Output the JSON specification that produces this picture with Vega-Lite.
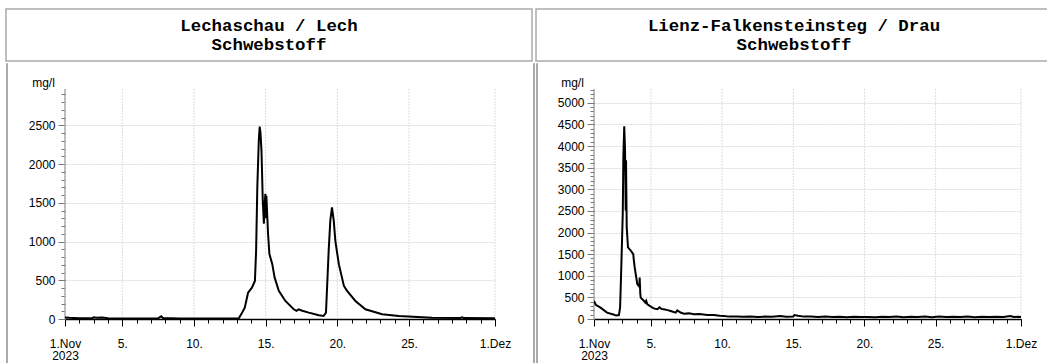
{
  "$schema": "https://vega.github.io/schema/vega-lite/v6.json",
  "padding": {"left": 5, "top": 8, "right": 0, "bottom": 0},
  "config": {
    "view": {"stroke": null},
    "axis": {"labelFont": "Liberation Sans", "labelFontSize": 12, "labelColor": "#000", "titleFont": "Liberation Sans", "titleFontSize": 12, "titleFontWeight": "normal", "titleColor": "#000"}
  },
  "datasets": {
    "gridDates": [
      {"g": "2023-11-01T00:00"}, {"g": "2023-11-05T00:00"}, {"g": "2023-11-10T00:00"}, {"g": "2023-11-15T00:00"},
      {"g": "2023-11-20T00:00"}, {"g": "2023-11-25T00:00"}, {"g": "2023-12-01T00:00"}
    ],
    "lech": [
      {"t": "2023-11-01T00:00", "v": 20}, {"t": "2023-11-01T07:00", "v": 15}, {"t": "2023-11-02T00:00", "v": 10},
      {"t": "2023-11-02T22:00", "v": 12}, {"t": "2023-11-03T00:00", "v": 22}, {"t": "2023-11-03T05:00", "v": 15},
      {"t": "2023-11-03T14:00", "v": 18}, {"t": "2023-11-04T00:00", "v": 10}, {"t": "2023-11-05T00:00", "v": 8},
      {"t": "2023-11-06T00:00", "v": 7}, {"t": "2023-11-07T12:00", "v": 8}, {"t": "2023-11-07T17:00", "v": 35},
      {"t": "2023-11-07T20:00", "v": 12}, {"t": "2023-11-09T00:00", "v": 7}, {"t": "2023-11-11T00:00", "v": 6},
      {"t": "2023-11-13T00:00", "v": 6}, {"t": "2023-11-13T03:00", "v": 10}, {"t": "2023-11-13T07:00", "v": 60},
      {"t": "2023-11-13T13:00", "v": 146}, {"t": "2023-11-13T18:30", "v": 340}, {"t": "2023-11-14T01:00", "v": 405},
      {"t": "2023-11-14T06:00", "v": 492}, {"t": "2023-11-14T08:00", "v": 880}, {"t": "2023-11-14T10:00", "v": 1700},
      {"t": "2023-11-14T12:30", "v": 2305}, {"t": "2023-11-14T14:00", "v": 2486}, {"t": "2023-11-14T15:20", "v": 2400},
      {"t": "2023-11-14T17:00", "v": 2175}, {"t": "2023-11-14T19:10", "v": 1528}, {"t": "2023-11-14T21:00", "v": 1230},
      {"t": "2023-11-14T22:00", "v": 1450}, {"t": "2023-11-14T23:30", "v": 1618}, {"t": "2023-11-15T00:30", "v": 1300},
      {"t": "2023-11-15T01:10", "v": 1590}, {"t": "2023-11-15T04:00", "v": 1100}, {"t": "2023-11-15T06:15", "v": 840},
      {"t": "2023-11-15T11:00", "v": 712}, {"t": "2023-11-15T15:00", "v": 535}, {"t": "2023-11-15T22:00", "v": 363},
      {"t": "2023-11-16T09:00", "v": 233}, {"t": "2023-11-16T23:00", "v": 125}, {"t": "2023-11-17T03:30", "v": 105},
      {"t": "2023-11-17T07:30", "v": 125}, {"t": "2023-11-17T12:00", "v": 110}, {"t": "2023-11-18T00:15", "v": 82},
      {"t": "2023-11-18T17:00", "v": 48}, {"t": "2023-11-19T01:00", "v": 39}, {"t": "2023-11-19T05:00", "v": 82},
      {"t": "2023-11-19T09:30", "v": 880}, {"t": "2023-11-19T12:15", "v": 1270}, {"t": "2023-11-19T15:00", "v": 1440},
      {"t": "2023-11-19T18:00", "v": 1270}, {"t": "2023-11-19T20:40", "v": 1010}, {"t": "2023-11-20T02:30", "v": 708},
      {"t": "2023-11-20T11:00", "v": 427}, {"t": "2023-11-20T16:20", "v": 363}, {"t": "2023-11-21T06:15", "v": 233},
      {"t": "2023-11-21T23:00", "v": 125}, {"t": "2023-11-23T03:00", "v": 61}, {"t": "2023-11-24T07:00", "v": 39},
      {"t": "2023-11-26T14:30", "v": 17}, {"t": "2023-11-28T14:00", "v": 14}, {"t": "2023-11-28T17:00", "v": 22},
      {"t": "2023-11-28T20:00", "v": 12}, {"t": "2023-12-01T00:00", "v": 10}
    ],
    "drau": [
      {"t": "2023-11-01T00:00", "v": 420}, {"t": "2023-11-01T03:00", "v": 330}, {"t": "2023-11-01T11:00", "v": 263},
      {"t": "2023-11-01T22:00", "v": 147}, {"t": "2023-11-02T10:00", "v": 100}, {"t": "2023-11-02T13:00", "v": 80},
      {"t": "2023-11-02T18:00", "v": 90}, {"t": "2023-11-02T20:00", "v": 260}, {"t": "2023-11-02T22:00", "v": 1190},
      {"t": "2023-11-03T00:30", "v": 2440}, {"t": "2023-11-03T01:30", "v": 3745}, {"t": "2023-11-03T03:00", "v": 4460},
      {"t": "2023-11-03T04:20", "v": 3900}, {"t": "2023-11-03T05:30", "v": 2508}, {"t": "2023-11-03T06:00", "v": 3670},
      {"t": "2023-11-03T07:10", "v": 2120}, {"t": "2023-11-03T09:20", "v": 1655}, {"t": "2023-11-03T14:00", "v": 1580},
      {"t": "2023-11-03T18:15", "v": 1500}, {"t": "2023-11-03T19:00", "v": 1380}, {"t": "2023-11-03T20:40", "v": 1190},
      {"t": "2023-11-04T01:00", "v": 805}, {"t": "2023-11-04T04:20", "v": 750}, {"t": "2023-11-04T05:00", "v": 960},
      {"t": "2023-11-04T06:00", "v": 600}, {"t": "2023-11-04T06:45", "v": 495}, {"t": "2023-11-04T12:15", "v": 418},
      {"t": "2023-11-04T14:30", "v": 380}, {"t": "2023-11-04T16:00", "v": 420}, {"t": "2023-11-04T18:00", "v": 340},
      {"t": "2023-11-05T02:30", "v": 263}, {"t": "2023-11-05T06:00", "v": 240}, {"t": "2023-11-05T11:00", "v": 225},
      {"t": "2023-11-05T14:30", "v": 270}, {"t": "2023-11-05T18:00", "v": 230}, {"t": "2023-11-05T22:00", "v": 225},
      {"t": "2023-11-06T04:00", "v": 205}, {"t": "2023-11-06T09:15", "v": 186}, {"t": "2023-11-06T17:45", "v": 147},
      {"t": "2023-11-06T20:30", "v": 200}, {"t": "2023-11-07T02:00", "v": 150}, {"t": "2023-11-07T07:40", "v": 124},
      {"t": "2023-11-07T16:00", "v": 130}, {"t": "2023-11-08T00:45", "v": 108}, {"t": "2023-11-08T10:00", "v": 115},
      {"t": "2023-11-08T23:00", "v": 93}, {"t": "2023-11-09T10:00", "v": 95}, {"t": "2023-11-09T20:00", "v": 75},
      {"t": "2023-11-10T03:20", "v": 70}, {"t": "2023-11-10T12:00", "v": 55}, {"t": "2023-11-11T00:00", "v": 60},
      {"t": "2023-11-11T12:00", "v": 50}, {"t": "2023-11-12T00:00", "v": 58}, {"t": "2023-11-12T12:00", "v": 48},
      {"t": "2023-11-13T00:00", "v": 55}, {"t": "2023-11-13T12:00", "v": 52}, {"t": "2023-11-14T02:00", "v": 70},
      {"t": "2023-11-14T12:00", "v": 50}, {"t": "2023-11-15T00:00", "v": 60}, {"t": "2023-11-15T02:00", "v": 90},
      {"t": "2023-11-15T08:00", "v": 75}, {"t": "2023-11-15T18:00", "v": 55}, {"t": "2023-11-16T06:00", "v": 60},
      {"t": "2023-11-16T18:00", "v": 45}, {"t": "2023-11-17T06:00", "v": 55}, {"t": "2023-11-17T18:00", "v": 48},
      {"t": "2023-11-18T06:00", "v": 52}, {"t": "2023-11-18T18:00", "v": 42}, {"t": "2023-11-19T06:00", "v": 50},
      {"t": "2023-11-19T18:00", "v": 45}, {"t": "2023-11-20T06:00", "v": 48}, {"t": "2023-11-20T18:00", "v": 40},
      {"t": "2023-11-21T06:00", "v": 50}, {"t": "2023-11-21T18:00", "v": 45}, {"t": "2023-11-22T06:00", "v": 58},
      {"t": "2023-11-22T18:00", "v": 42}, {"t": "2023-11-23T06:00", "v": 52}, {"t": "2023-11-23T18:00", "v": 45},
      {"t": "2023-11-24T06:00", "v": 55}, {"t": "2023-11-24T18:00", "v": 42}, {"t": "2023-11-25T06:00", "v": 60},
      {"t": "2023-11-25T18:00", "v": 45}, {"t": "2023-11-26T06:00", "v": 52}, {"t": "2023-11-26T18:00", "v": 48},
      {"t": "2023-11-27T06:00", "v": 55}, {"t": "2023-11-27T18:00", "v": 42}, {"t": "2023-11-28T06:00", "v": 50},
      {"t": "2023-11-28T18:00", "v": 45}, {"t": "2023-11-29T06:00", "v": 52}, {"t": "2023-11-29T18:00", "v": 48},
      {"t": "2023-11-30T06:00", "v": 70}, {"t": "2023-11-30T12:00", "v": 45}, {"t": "2023-11-30T18:00", "v": 52},
      {"t": "2023-12-01T00:00", "v": 48}
    ]
  },
  "spacing": 0,
  "hconcat": [
    {
      "spacing": 0,
      "vconcat": [
        {
          "width": 526, "height": 52,
          "view": {"stroke": "#aaa", "strokeWidth": 1.5},
          "data": {"values": [{"title": "Lechaschau / Lech\nSchwebstoff"}]},
          "mark": {"type": "text", "font": "Liberation Mono", "fontWeight": "bold", "fontSize": 17.4, "lineBreak": "\n", "lineHeight": 19, "baseline": "middle", "dy": -9, "color": "#000"},
          "encoding": {"text": {"field": "title"}}
        },
        {
          "spacing": 21,
          "hconcat": [
            {
              "spacing": 0,
              "hconcat": [
                {"width": 1, "height": 302, "view": {"stroke": "#aaa", "strokeWidth": 1}, "data": {"values": [{}]}, "mark": {"type": "text", "text": ""}},
                {
                  "width": 430, "height": 256,
                  "data": {"name": "lech"},
                  "resolve": {"axis": {"x": "independent", "y": "independent"}},
                  "layer": [
                    {
                      "data": {"name": "gridDates"},
                      "mark": {"type": "rule", "color": "#ddd", "strokeDash": [2, 1]},
                      "encoding": {
                        "x": {"field": "g", "type": "temporal", "axis": null},
                        "y": {"datum": 0, "type": "quantitative", "axis": null},
                        "y2": {"datum": 2970}
                      }
                    },
                    {
                      "data": {"values": [{}]},
                      "mark": {"type": "rule", "color": "#888"},
                      "encoding": {
                        "x": {"datum": {"year": 2023, "month": 11, "date": 1}, "type": "temporal", "axis": null},
                        "y": {"datum": 0, "type": "quantitative", "axis": null},
                        "y2": {"datum": 2970}
                      }
                    },
                    {
                      "mark": {"type": "line", "color": "#000", "strokeWidth": 2, "clip": true},
                      "encoding": {
                        "x": {"field": "t", "type": "temporal",
                          "scale": {"domain": [{"year": 2023, "month": 11, "date": 1}, {"year": 2023, "month": 12, "date": 1}]},
                          "axis": {"orient": "bottom", "title": null,
                            "values": [{"year": 2023, "month": 11, "date": 1}, {"year": 2023, "month": 11, "date": 5}, {"year": 2023, "month": 11, "date": 10}, {"year": 2023, "month": 11, "date": 15}, {"year": 2023, "month": 11, "date": 20}, {"year": 2023, "month": 11, "date": 25}, {"year": 2023, "month": 12, "date": 1}],
                            "labelExpr": "date(datum.value) == 1 ? (month(datum.value) == 10 ? ['1.Nov', '2023'] : '1.Dez') : date(datum.value) + '.'",
                            "labelLineHeight": 12, "labelFlush": false, "labelOverlap": false, "labelPadding": 12,
                            "tickSize": 7, "tickColor": "#000", "domainColor": "#000", "domainWidth": 1.5, "grid": false}},
                        "y": {"field": "v", "type": "quantitative",
                          "scale": {"domain": [0, 3306], "nice": false},
                          "axis": {"orient": "left", "values": [0, 500, 1000, 1500, 2000, 2500], "format": "d",
                            "title": "mg/l", "titleAngle": 0, "titleX": -22, "titleY": 23, "titleAlign": "center", "titleBaseline": "alphabetic",
                            "tickSize": 7, "tickColor": "#777", "domain": false, "labelPadding": 3, "minExtent": 57,
                            "grid": true, "gridColor": "#ddd", "gridDash": [2, 1]}}
                      }
                    },
                    {
                      "mark": {"type": "line", "strokeOpacity": 0},
                      "encoding": {
                        "x": {"field": "t", "type": "temporal",
                          "axis": {"orient": "bottom", "title": null, "labels": false, "domain": false, "grid": false, "tickSize": 4, "tickColor": "#000",
                            "values": [{"year": 2023, "month": 11, "date": 1}, {"year": 2023, "month": 11, "date": 2}, {"year": 2023, "month": 11, "date": 3}, {"year": 2023, "month": 11, "date": 4}, {"year": 2023, "month": 11, "date": 5}, {"year": 2023, "month": 11, "date": 6}, {"year": 2023, "month": 11, "date": 7}, {"year": 2023, "month": 11, "date": 8}, {"year": 2023, "month": 11, "date": 9}, {"year": 2023, "month": 11, "date": 10}, {"year": 2023, "month": 11, "date": 11}, {"year": 2023, "month": 11, "date": 12}, {"year": 2023, "month": 11, "date": 13}, {"year": 2023, "month": 11, "date": 14}, {"year": 2023, "month": 11, "date": 15}, {"year": 2023, "month": 11, "date": 16}, {"year": 2023, "month": 11, "date": 17}, {"year": 2023, "month": 11, "date": 18}, {"year": 2023, "month": 11, "date": 19}, {"year": 2023, "month": 11, "date": 20}, {"year": 2023, "month": 11, "date": 21}, {"year": 2023, "month": 11, "date": 22}, {"year": 2023, "month": 11, "date": 23}, {"year": 2023, "month": 11, "date": 24}, {"year": 2023, "month": 11, "date": 25}, {"year": 2023, "month": 11, "date": 26}, {"year": 2023, "month": 11, "date": 27}, {"year": 2023, "month": 11, "date": 28}, {"year": 2023, "month": 11, "date": 29}, {"year": 2023, "month": 11, "date": 30}, {"year": 2023, "month": 12, "date": 1}]}},
                        "y": {"field": "v", "type": "quantitative",
                          "axis": {"orient": "left", "title": null, "labels": false, "domain": false, "grid": false, "tickSize": 4, "tickColor": "#777",
                            "values": [0, 100, 200, 300, 400, 500, 600, 700, 800, 900, 1000, 1100, 1200, 1300, 1400, 1500, 1600, 1700, 1800, 1900, 2000, 2100, 2200, 2300, 2400, 2500, 2600, 2700, 2800, 2900]}}
                      }
                    }
                  ]
                }
              ]
            },
            {"width": 1, "height": 302, "view": {"stroke": "#aaa", "strokeWidth": 1}, "data": {"values": [{}]}, "mark": {"type": "text", "text": ""}}
          ]
        }
      ]
    },
    {
      "spacing": 0,
      "vconcat": [
        {
          "width": 516, "height": 52,
          "view": {"stroke": "#aaa", "strokeWidth": 1.5},
          "data": {"values": [{"title": "Lienz-Falkensteinsteg / Drau\nSchwebstoff"}]},
          "mark": {"type": "text", "font": "Liberation Mono", "fontWeight": "bold", "fontSize": 17.4, "lineBreak": "\n", "lineHeight": 19, "baseline": "middle", "dy": -9, "color": "#000"},
          "encoding": {"text": {"field": "title"}}
        },
        {
          "spacing": 0,
          "hconcat": [
            {"width": 1, "height": 302, "view": {"stroke": "#aaa", "strokeWidth": 1}, "data": {"values": [{}]}, "mark": {"type": "text", "text": ""}},
            {
              "width": 427, "height": 256,
              "data": {"name": "drau"},
              "resolve": {"axis": {"x": "independent", "y": "independent"}},
              "layer": [
                {
                  "data": {"name": "gridDates"},
                  "mark": {"type": "rule", "color": "#ddd", "strokeDash": [2, 1]},
                  "encoding": {
                    "x": {"field": "g", "type": "temporal", "axis": null},
                    "y": {"datum": 0, "type": "quantitative", "axis": null},
                    "y2": {"datum": 5320}
                  }
                },
                {
                  "data": {"values": [{}]},
                  "mark": {"type": "rule", "color": "#888"},
                  "encoding": {
                    "x": {"datum": {"year": 2023, "month": 11, "date": 1}, "type": "temporal", "axis": null},
                    "y": {"datum": 0, "type": "quantitative", "axis": null},
                    "y2": {"datum": 5320}
                  }
                },
                {
                  "mark": {"type": "line", "color": "#000", "strokeWidth": 2, "clip": true},
                  "encoding": {
                    "x": {"field": "t", "type": "temporal",
                      "scale": {"domain": [{"year": 2023, "month": 11, "date": 1}, {"year": 2023, "month": 12, "date": 1}]},
                      "axis": {"orient": "bottom", "title": null,
                        "values": [{"year": 2023, "month": 11, "date": 1}, {"year": 2023, "month": 11, "date": 5}, {"year": 2023, "month": 11, "date": 10}, {"year": 2023, "month": 11, "date": 15}, {"year": 2023, "month": 11, "date": 20}, {"year": 2023, "month": 11, "date": 25}, {"year": 2023, "month": 12, "date": 1}],
                        "labelExpr": "date(datum.value) == 1 ? (month(datum.value) == 10 ? ['1.Nov', '2023'] : '1.Dez') : date(datum.value) + '.'",
                        "labelLineHeight": 12, "labelFlush": false, "labelOverlap": false, "labelPadding": 12,
                        "tickSize": 7, "tickColor": "#000", "domainColor": "#000", "domainWidth": 1.5, "grid": false}},
                    "y": {"field": "v", "type": "quantitative",
                      "scale": {"domain": [0, 5921], "nice": false},
                      "axis": {"orient": "left", "values": [0, 500, 1000, 1500, 2000, 2500, 3000, 3500, 4000, 4500, 5000], "format": "d",
                        "title": "mg/l", "titleAngle": 0, "titleX": -22, "titleY": 23, "titleAlign": "center", "titleBaseline": "alphabetic",
                        "tickSize": 7, "tickColor": "#777", "domain": false, "labelPadding": 3, "minExtent": 56,
                        "grid": true, "gridColor": "#ddd", "gridDash": [2, 1]}}
                  }
                },
                {
                  "mark": {"type": "line", "strokeOpacity": 0},
                  "encoding": {
                    "x": {"field": "t", "type": "temporal",
                      "axis": {"orient": "bottom", "title": null, "labels": false, "domain": false, "grid": false, "tickSize": 4, "tickColor": "#000",
                        "values": [{"year": 2023, "month": 11, "date": 1}, {"year": 2023, "month": 11, "date": 2}, {"year": 2023, "month": 11, "date": 3}, {"year": 2023, "month": 11, "date": 4}, {"year": 2023, "month": 11, "date": 5}, {"year": 2023, "month": 11, "date": 6}, {"year": 2023, "month": 11, "date": 7}, {"year": 2023, "month": 11, "date": 8}, {"year": 2023, "month": 11, "date": 9}, {"year": 2023, "month": 11, "date": 10}, {"year": 2023, "month": 11, "date": 11}, {"year": 2023, "month": 11, "date": 12}, {"year": 2023, "month": 11, "date": 13}, {"year": 2023, "month": 11, "date": 14}, {"year": 2023, "month": 11, "date": 15}, {"year": 2023, "month": 11, "date": 16}, {"year": 2023, "month": 11, "date": 17}, {"year": 2023, "month": 11, "date": 18}, {"year": 2023, "month": 11, "date": 19}, {"year": 2023, "month": 11, "date": 20}, {"year": 2023, "month": 11, "date": 21}, {"year": 2023, "month": 11, "date": 22}, {"year": 2023, "month": 11, "date": 23}, {"year": 2023, "month": 11, "date": 24}, {"year": 2023, "month": 11, "date": 25}, {"year": 2023, "month": 11, "date": 26}, {"year": 2023, "month": 11, "date": 27}, {"year": 2023, "month": 11, "date": 28}, {"year": 2023, "month": 11, "date": 29}, {"year": 2023, "month": 11, "date": 30}, {"year": 2023, "month": 12, "date": 1}]}},
                    "y": {"field": "v", "type": "quantitative",
                      "axis": {"orient": "left", "title": null, "labels": false, "domain": false, "grid": false, "tickSize": 4, "tickColor": "#777",
                        "values": [0, 100, 200, 300, 400, 500, 600, 700, 800, 900, 1000, 1100, 1200, 1300, 1400, 1500, 1600, 1700, 1800, 1900, 2000, 2100, 2200, 2300, 2400, 2500, 2600, 2700, 2800, 2900, 3000, 3100, 3200, 3300, 3400, 3500, 3600, 3700, 3800, 3900, 4000, 4100, 4200, 4300, 4400, 4500, 4600, 4700, 4800, 4900, 5000, 5100, 5200, 5300]}}
                  }
                }
              ]
            }
          ]
        }
      ]
    }
  ]
}
